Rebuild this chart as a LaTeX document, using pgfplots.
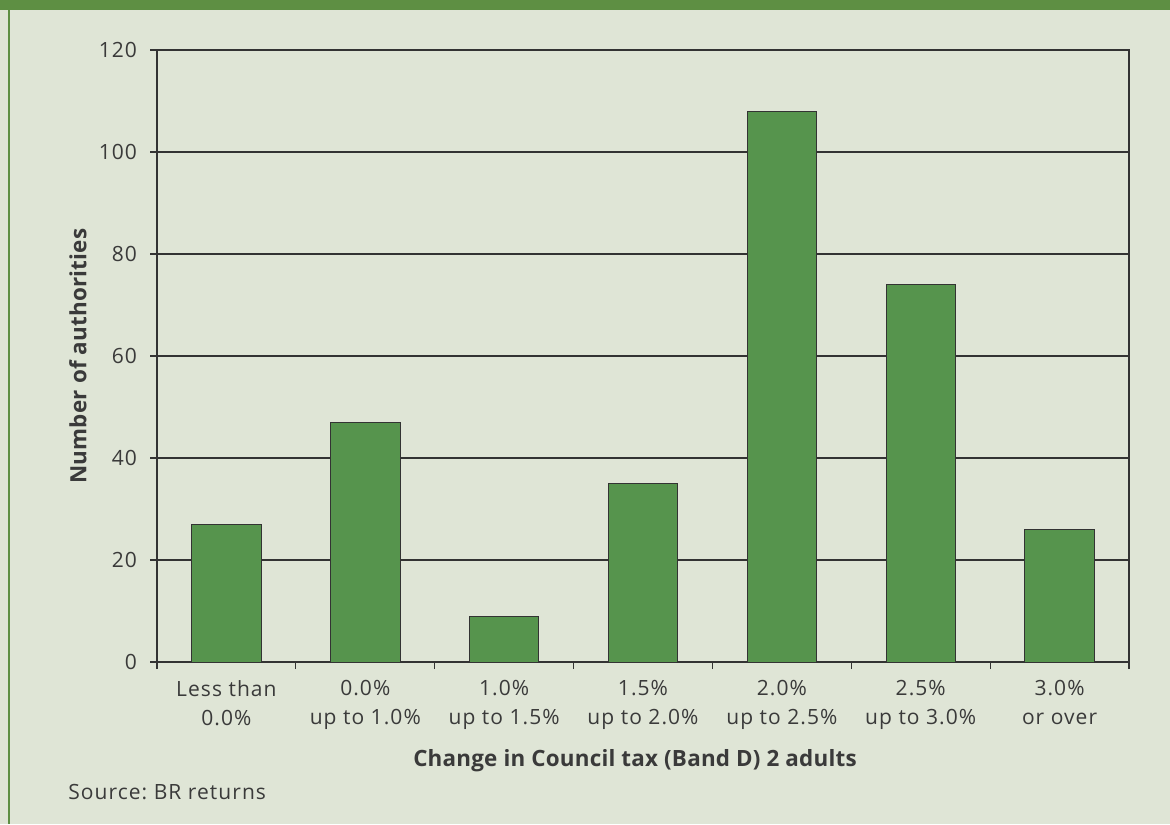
\documentclass[border=0pt]{standalone}
\usepackage{fontspec}
\setmainfont{Open Sans}
\newfontfamily\tickfont[LetterSpace=5]{Open Sans}
\newfontfamily\labfont[LetterSpace=1]{Open Sans}
\usepackage{pgfplots}
\pgfplotsset{compat=1.18}
\definecolor{bg}{HTML}{DFE5D6}
\definecolor{band}{HTML}{5E8F43}
\definecolor{bar}{HTML}{56944D}
\definecolor{txt}{HTML}{3A3A3A}
\definecolor{ln}{HTML}{333333}
\frenchspacing
\begin{document}
\begin{tikzpicture}[x=1pt,y=1pt]
\fill[bg] (0,0) rectangle (585,412);
\fill[band] (0,407) rectangle (585,412);
\fill[band] (4.2,0) rectangle (5.2,407);
\begin{axis}[
  at={(78.5pt,81pt)}, anchor=south west,
  scale only axis, width=486pt, height=306pt,
  xmin=0, xmax=7, ymin=0, ymax=120,
  ytick={0,20,...,120},
  xtick={0,...,7},
  x tick label as interval,
  xticklabels={{Less than\\0.0\%},{0.0\%\\up to 1.0\%},{1.0\%\\up to 1.5\%},{1.5\%\\up to 2.0\%},{2.0\%\\up to 2.5\%},{2.5\%\\up to 3.0\%},{3.0\%\\or over}},
  tick pos=left, tick align=outside,
  major tick length=3.5pt,
  tick style={ln, line width=0.6pt},
  axis line style={ln, line width=0.6pt},
  ymajorgrids, grid style={ln, line width=0.6pt},
  /pgf/number format/assume math mode=true,
  ticklabel style={font=\tickfont\fontsize{10.5}{14.5}\selectfont, text=txt},
  xticklabel style={align=center, yshift=-2pt},
  yticklabel style={xshift=-3pt},
  label style={font=\labfont\fontsize{11.2}{13}\selectfont\bfseries, text=txt},
  ylabel={Number of authorities},
  xlabel={Change in Council tax (Band D) 2 adults},
  ylabel style={at={(axis description cs:-0.0813,0.5)}, anchor=center},
  xlabel style={at={(axis description cs:0.5,-0.162)}, anchor=center, xshift=-4pt},
  axis background/.style={fill=bg},
]
\addplot[ybar, bar width=0.5, fill=bar, draw=ln, line width=0.5pt] coordinates {
(0.5,27) (1.5,47) (2.5,9) (3.5,35) (4.5,108) (5.5,74) (6.5,26)};
\end{axis}
\node[anchor=west, font=\tickfont\fontsize{10.5}{12}\selectfont, text=txt, inner sep=0] at (34,16) {Source: BR returns};
\end{tikzpicture}
\end{document}
